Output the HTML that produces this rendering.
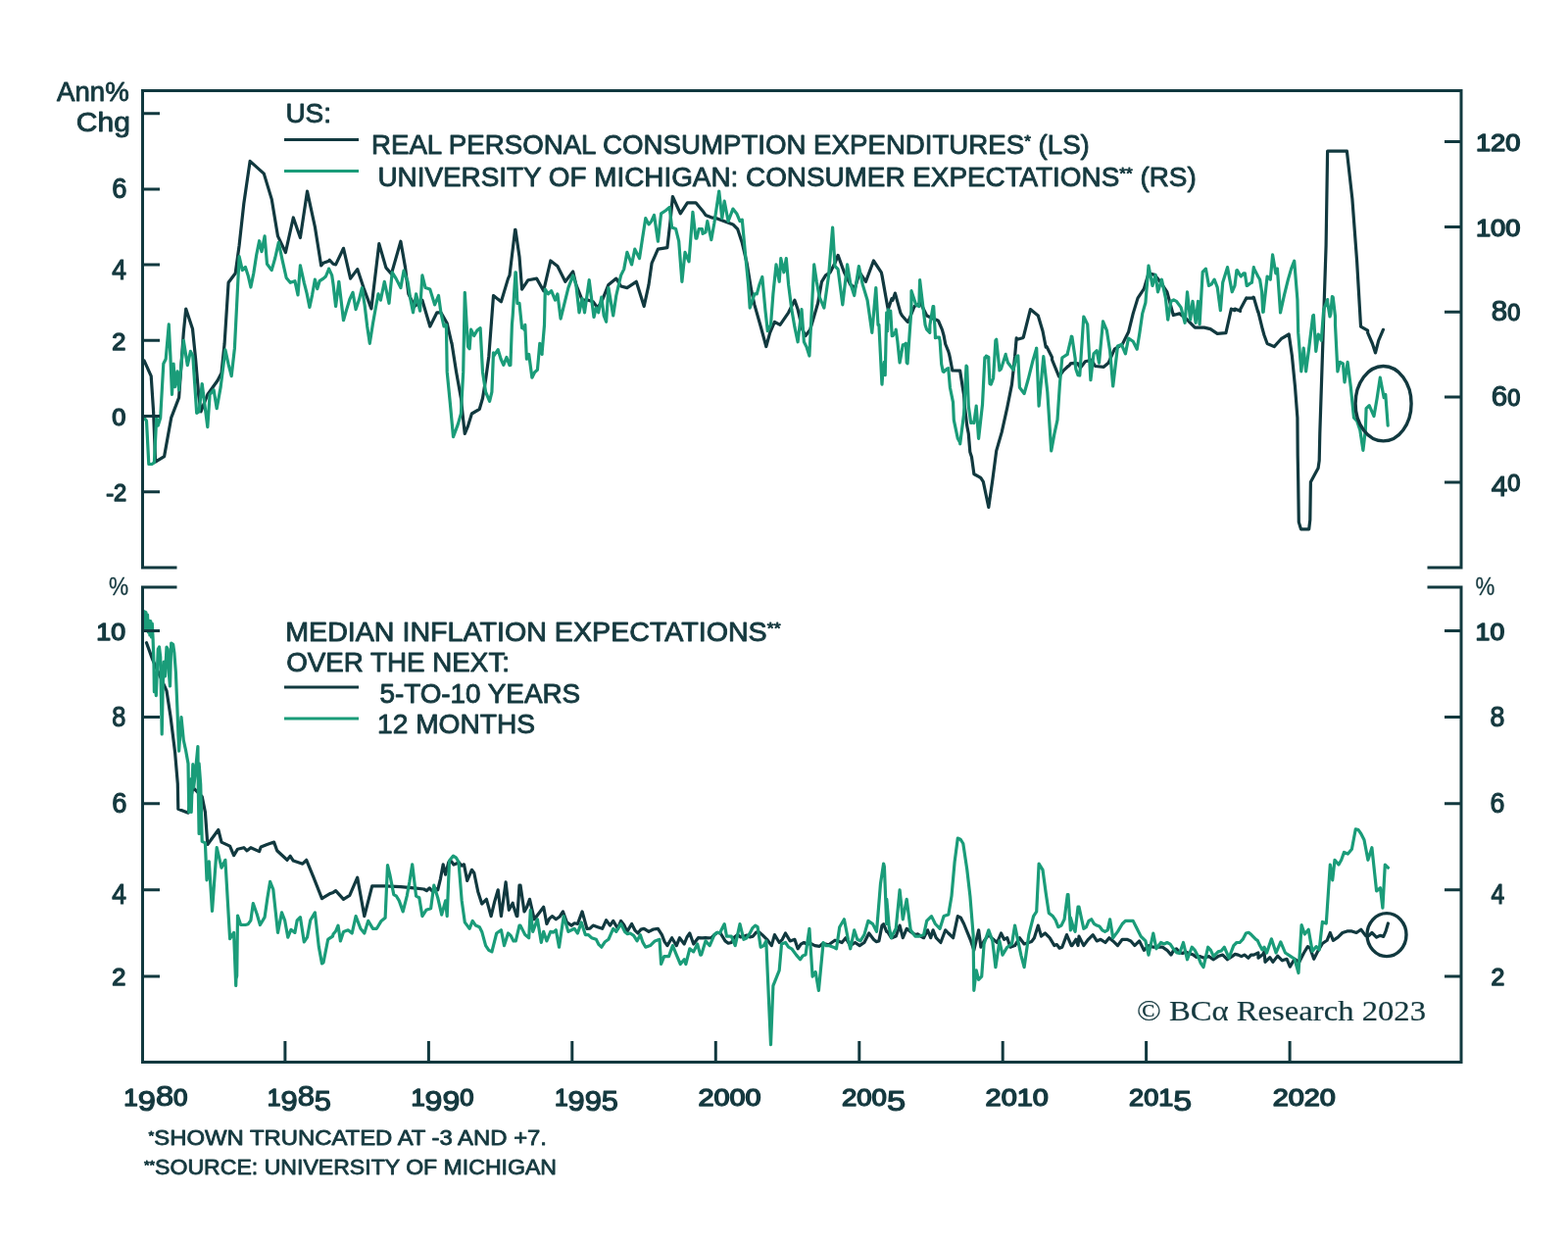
<!DOCTYPE html>
<html><head><meta charset="utf-8"><title>US consumption and inflation expectations</title><style>html,body{margin:0;padding:0;background:#fff;}svg{display:block;}</style></head><body>
<svg width="1600" height="1268" viewBox="0 0 1600 1268">
<rect width="1600" height="1268" fill="#ffffff"/>
<g fill="none" stroke-width="3.2" stroke-linejoin="round" stroke-linecap="round">
<path stroke="#11393f" d="M147.1,367.8 L154.2,383.6 L156.6,419.9 L158.6,471.1 L167.6,465.6 L174.7,426.2 L182.6,405.7 L187.3,339.4 L189.7,315.1 L189.7,315.0 L196.5,335.5 L199.6,366.2 L202.8,404.1 L205.0,419.9 L211.8,402.5 L222.0,388.3 L226.0,380.4 L229.1,350.5 L233.1,288.3 L240.2,278.8 L244.1,250.4 L248.8,207.8 L255.1,164.4 L269.3,177.1 L277.2,203.1 L283.5,240.9 L291.4,257.5 L299.3,222.0 L306.4,242.5 L313.5,195.2 L321.4,231.5 L327.7,270.9 L330.0,268.3 L335.6,266.2 L336.3,265.2 L340.0,269.3 L342.6,269.9 L350.5,253.3 L357.6,284.1 L364.7,274.6 L371.0,293.6 L378.9,314.9 L386.8,248.6 L393.9,273.1 L399.4,279.4 L408.9,246.2 L413.6,273.1 L416.8,299.9 L423.1,312.5 L430.9,306.2 L438.8,333.0 L445.9,318.8 L449.9,318.8 L456.2,329.8 L460.9,350.3 L460.9,349.5 L465.6,379.4 L470.4,406.2 L472.7,428.3 L474.3,442.5 L477.5,434.6 L481.4,422.0 L489.3,417.3 L492.5,406.2 L495.6,387.3 L498.8,363.7 L503.5,301.5 L511.4,307.8 L518.5,284.1 L520.0,280.9 L525.6,234.4 L526.0,234.4 L530.0,262.0 L532.6,295.1 L538.9,285.7 L547.6,284.1 L554.7,296.7 L561.8,266.0 L568.9,271.5 L576.8,287.3 L584.7,277.0 L587.8,290.4 L594.1,306.2 L600.4,306.2 L605.2,307.8 L609.9,314.1 L614.6,306.2 L620.9,290.4 L628.8,284.1 L633.6,292.0 L639.9,293.6 L649.3,287.3 L657.2,312.5 L662.0,290.4 L665.1,268.3 L671.4,254.1 L680.9,252.6 L684.0,225.7 L686.4,200.5 L694.3,217.9 L701.4,206.8 L709.3,206.8 L710.0,206.8 L717.9,216.3 L720.0,219.4 L725.8,221.8 L730.5,222.6 L747.9,228.9 L752.6,233.6 L757.3,247.8 L762.1,268.3 L766.8,296.7 L769.9,310.9 L776.2,333.0 L781.8,353.5 L785.7,339.3 L790.4,328.3 L796.0,331.4 L804.6,318.8 L810.9,306.2 L814.1,315.6 L818.8,336.2 L822.0,342.5 L826.7,336.2 L834.6,309.3 L838.5,287.3 L842.5,280.9 L847.2,277.8 L852.0,268.3 L855.1,260.4 L861.4,277.8 L867.7,290.4 L872.5,293.6 L877.2,277.8 L883.5,287.3 L891.4,266.0 L899.3,277.8 L900.0,280.9 L905.6,312.5 L906.3,315.6 L910.0,304.6 L910.9,306.3 L913.4,299.1 L918.8,318.9 L920.5,322.0 L926.0,328.3 L926.7,328.4 L933.1,312.5 L939.4,309.3 L945.7,322.0 L952.1,325.1 L956.7,326.8 L957.6,327.5 L961.4,336.3 L963.1,342.5 L964.7,351.0 L967.7,358.4 L968.6,361.4 L969.4,365.2 L971.7,377.3 L971.8,377.2 L971.8,377.9 L979.6,378.1 L979.7,378.6 L982.0,393.6 L983.5,402.5 L984.4,414.1 L986.7,434.1 L988.3,442.5 L989.8,460.9 L991.5,466.2 L993.8,483.0 L993.8,483.5 L999.4,486.7 L1000.9,487.7 L1003.3,491.4 L1008.8,517.4 L1012.8,489.8 L1016.7,459.9 L1022.2,440.9 L1027.8,415.7 L1032.5,392.1 L1035.6,363.7 L1037.2,344.8 L1038.0,346.3 L1043.5,344.7 L1044.3,344.0 L1051.4,315.6 L1059.3,322.0 L1064.0,337.7 L1067.2,354.2 L1068.0,353.5 L1073.5,364.5 L1073.5,366.8 L1080.6,384.2 L1085.3,377.9 L1090.0,373.5 L1090.9,373.1 L1092.4,370.9 L1096.3,370.3 L1100.0,370.9 L1100.0,371.5 L1102.6,375.1 L1107.4,368.8 L1113.7,367.2 L1117.6,373.5 L1126.3,374.3 L1131.0,370.3 L1137.3,356.2 L1145.2,351.4 L1151.5,338.8 L1156.2,319.9 L1161.0,304.1 L1167.3,294.6 L1172.0,278.9 L1178.3,280.4 L1184.6,288.3 L1190.9,297.8 L1197.3,321.5 L1203.6,319.9 L1209.9,324.6 L1219.3,334.1 L1228.8,334.1 L1235.1,335.6 L1242.2,340.4 L1250.9,339.6 L1256.4,315.1 L1260.0,316.7 L1260.0,315.0 L1264.3,316.7 L1265.5,317.4 L1265.5,315.8 L1271.8,304.0 L1271.8,304.7 L1273.0,304.1 L1278.9,304.0 L1278.9,303.2 L1279.3,303.3 L1283.7,318.2 L1283.7,317.4 L1284.0,318.3 L1288.4,336.3 L1290.0,342.0 L1293.1,350.5 L1300.2,353.6 L1307.3,345.7 L1315.2,341.0 L1318.4,363.1 L1321.5,394.6 L1323.9,426.2 L1324.2,464.2 L1324.7,490.6 L1325.3,532.6 L1327.5,539.8 L1335.7,539.8 L1336.8,530.4 L1337.4,491.7 L1345.1,477.4 L1346.2,469.7 L1346.8,442.1 L1353.1,250.4 L1354.6,154.2 L1374.4,154.2 L1379.9,203.1 L1384.6,266.2 L1388.5,332.4 L1388.5,333.1 L1395.6,337.2 L1395.6,339.4 L1400.4,350.5 L1403.5,359.9 L1406.7,347.3 L1411.4,336.3"/>
<path stroke="#11393f" d="M149.5,655.7 L155.8,673.1 L170.0,704.6 L173.9,729.9 L178.6,767.7 L181.3,799.3 L181.8,825.2 L192.1,829.2 L194.4,815.8 L196.8,803.2 L199.9,806.3 L206.2,812.6 L209.4,828.4 L211.8,861.5 L222.8,846.5 L226.0,859.1 L234.6,863.1 L238.6,872.6 L242.5,866.2 L248.8,864.7 L252.0,867.8 L255.9,864.7 L264.6,868.6 L266.2,863.9 L272.5,861.5 L279.6,859.1 L282.7,867.8 L293.0,877.3 L296.2,873.3 L299.3,878.1 L308.8,881.2 L312.7,877.3 L319.8,894.6 L328.5,916.7 L330.0,915.7 L336.3,911.8 L340.0,910.4 L342.6,908.6 L350.5,917.3 L356.8,913.3 L364.7,895.2 L371.8,934.6 L379.7,903.9 L393.1,903.9 L408.9,904.7 L424.6,906.2 L432.5,907.0 L435.4,908.7 L438.2,905.9 L441.0,909.0 L443.9,906.2 L446.7,907.8 L449.5,896.3 L452.2,881.8 L454.6,892.1 L457.8,879.4 L460.4,878.5 L463.0,882.0 L465.6,881.0 L468.3,879.8 L470.9,883.0 L473.5,881.8 L476.7,898.4 L481.4,887.3 L483.8,890.5 L487.7,909.4 L491.7,922.0 L496.4,917.3 L501.1,934.6 L504.7,919.7 L508.2,907.8 L511.4,934.6 L516.1,899.9 L519.3,928.3 L523.2,921.2 L523.2,922.0 L527.2,934.6 L527.9,934.6 L530.0,903.1 L531.0,903.1 L535.0,929.9 L537.7,925.1 L540.5,917.3 L545.2,937.8 L550.0,931.5 L554.7,925.2 L557.9,942.5 L560.6,937.1 L563.4,934.6 L567.3,937.8 L570.9,935.3 L574.4,929.9 L578.4,940.9 L583.1,944.1 L586.2,941.8 L589.4,942.5 L594.1,929.9 L598.9,947.3 L602.0,947.2 L605.2,944.1 L609.9,945.7 L614.6,947.3 L618.6,938.6 L622.5,944.1 L625.7,939.4 L630.4,947.3 L633.6,939.4 L636.7,943.4 L639.9,950.4 L644.6,942.5 L647.8,948.8 L650.9,952.0 L654.1,948.1 L657.2,947.3 L662.0,950.4 L666.7,948.0 L671.4,947.3 L675.4,953.6 L678.1,960.6 L680.9,964.6 L685.6,956.7 L690.3,964.6 L693.5,956.7 L698.2,963.0 L701.0,956.0 L703.8,952.0 L707.7,963.0 L712.4,956.7 L716.3,956.8 L720.0,956.7 L722.6,956.8 L725.8,956.7 L728.9,953.6 L732.1,951.3 L735.2,952.0 L740.0,959.9 L743.1,962.2 L746.3,961.5 L749.4,956.0 L752.6,953.6 L755.7,955.9 L758.9,955.2 L762.1,954.1 L765.2,956.0 L768.4,955.1 L771.5,951.2 L774.7,950.9 L777.8,953.6 L782.6,958.3 L787.3,964.6 L790.4,953.6 L795.2,961.5 L798.3,958.3 L801.5,952.0 L806.2,959.9 L810.9,958.3 L814.1,967.8 L817.3,963.1 L820.4,961.5 L823.6,963.4 L826.7,962.3 L831.5,964.6 L836.2,965.4 L839.3,962.7 L842.5,963.1 L845.6,963.8 L848.8,961.5 L852.0,959.2 L855.1,959.9 L859.1,961.5 L863.0,956.8 L867.7,964.6 L872.5,961.5 L877.2,964.6 L881.9,961.5 L886.7,952.0 L891.4,958.3 L894.1,960.6 L896.9,959.9 L900.0,944.1 L901.6,942.6 L904.7,950.4 L905.6,950.4 L909.5,956.7 L910.0,956.8 L914.2,955.1 L918.1,944.1 L921.3,956.7 L925.2,947.3 L929.2,950.4 L933.9,953.6 L936.7,952.9 L939.4,955.1 L942.6,956.7 L946.5,948.8 L949.7,956.7 L952.1,948.8 L955.2,956.7 L959.9,961.5 L964.7,948.8 L967.8,952.0 L972.6,956.7 L977.3,934.6 L980.4,936.2 L983.6,942.5 L986.8,950.4 L990.7,959.9 L993.8,969.3 L998.6,948.8 L1000.9,966.2 L1004.1,959.9 L1008.8,953.6 L1013.6,958.3 L1017.5,961.5 L1021.5,952.0 L1024.6,958.3 L1027.8,956.7 L1030.9,966.2 L1035.6,964.6 L1040.4,956.7 L1045.1,963.0 L1049.8,961.5 L1052.6,960.6 L1055.4,956.7 L1059.3,944.1 L1062.5,955.1 L1066.4,952.0 L1071.1,956.7 L1075.9,964.6 L1078.5,963.6 L1081.1,967.2 L1083.8,966.2 L1088.5,953.6 L1093.2,964.6 L1093.9,964.6 L1097.9,958.3 L1100.0,964.6 L1101.0,955.1 L1105.8,964.6 L1110.5,958.3 L1115.2,953.6 L1119.2,959.9 L1123.1,958.3 L1127.9,961.5 L1131.8,956.7 L1135.7,959.9 L1140.5,964.6 L1145.2,958.3 L1149.9,958.3 L1153.9,959.9 L1157.8,964.6 L1162.6,959.9 L1167.3,969.3 L1172.0,964.6 L1176.8,966.2 L1181.5,966.2 L1186.2,966.2 L1190.9,969.3 L1194.9,974.1 L1197.6,969.4 L1200.4,967.8 L1203.6,971.6 L1206.7,972.5 L1209.9,971.0 L1213.0,972.5 L1217.8,974.1 L1220.9,976.4 L1224.1,975.6 L1228.8,977.2 L1233.5,975.6 L1238.3,978.8 L1243.0,975.6 L1247.7,974.1 L1252.5,978.8 L1257.2,975.6 L1260.3,973.4 L1263.5,974.1 L1266.7,975.6 L1269.8,974.1 L1273.8,977.2 L1276.5,974.1 L1279.3,974.1 L1283.9,972.0 L1284.0,977.2 L1288.7,973.5 L1290.0,970.9 L1291.0,981.4 L1295.8,976.7 L1298.9,981.4 L1303.7,975.1 L1308.4,979.8 L1313.1,978.3 L1316.3,986.2 L1321.0,978.3 L1325.7,981.4 L1330.5,972.0 L1334.4,965.6 L1336.8,967.2 L1340.7,978.3 L1344.7,970.4 L1349.4,962.5 L1354.1,959.3 L1357.3,951.5 L1360.4,959.3 L1365.2,956.2 L1369.9,951.5 L1374.6,949.9 L1379.4,949.9 L1384.1,951.5 L1388.8,948.3 L1393.6,954.6 L1396.7,954.5 L1399.9,951.5 L1404.6,956.2 L1408.2,954.3 L1411.7,955.4 L1414.1,949.9 L1416.4,942.0"/>
<path stroke="#1a9c79" d="M147.1,426.2 L149.5,429.3 L151.8,473.5 L155.0,473.5 L157.4,471.9 L159.7,426.2 L161.3,434.1 L163.7,426.2 L166.8,371.0 L169.2,366.2 L172.3,330.9 L172.3,331.5 L173.9,363.1 L175.5,402.5 L177.1,371.0 L178.6,394.6 L181.0,378.9 L182.6,397.8 L187.3,347.3 L191.3,372.6 L194.4,358.4 L196.8,363.1 L200.7,421.5 L203.1,419.9 L206.2,391.5 L208.6,410.4 L211.8,435.6 L214.1,402.5 L218.1,397.8 L221.2,416.7 L225.2,394.6 L229.9,356.8 L233.1,371.7 L236.2,383.6 L239.4,355.2 L244.1,261.5 L247.3,275.6 L250.4,272.5 L253.2,281.2 L255.9,293.0 L258.8,278.7 L261.7,260.0 L264.6,245.7 L267.0,256.7 L270.1,240.9 L272.5,269.3 L277.2,275.6 L280.8,263.0 L284.3,247.3 L288.3,266.2 L292.2,283.5 L296.2,288.3 L300.9,286.7 L304.0,300.9 L306.4,270.9 L310.3,288.3 L313.1,299.4 L315.9,313.5 L318.6,300.8 L321.4,285.1 L323.8,294.6 L326.1,286.7 L330.0,284.1 L332.4,282.0 L335.5,274.6 L335.6,274.1 L338.7,280.9 L340.0,289.8 L342.6,312.5 L345.8,287.3 L350.5,326.7 L353.7,315.6 L356.8,305.5 L360.0,298.3 L363.1,315.6 L366.3,306.1 L369.4,293.6 L372.1,311.0 L374.7,332.9 L377.3,350.3 L380.5,329.9 L383.6,312.5 L386.0,299.9 L388.4,306.2 L392.3,287.3 L397.0,309.3 L400.2,277.8 L404.1,284.1 L408.9,293.6 L412.0,276.2 L416.0,287.3 L418.7,304.5 L421.5,318.8 L424.6,299.9 L428.6,317.2 L430.9,280.9 L434.1,293.6 L438.8,295.1 L443.6,310.9 L447.5,301.5 L449.9,318.8 L453.0,333.0 L455.4,331.4 L456.2,379.4 L459.3,411.0 L462.5,445.7 L467.2,433.1 L470.4,422.0 L472.7,379.4 L474.3,298.3 L477.5,353.5 L479.1,355.8 L480.6,336.2 L483.8,342.5 L486.9,337.0 L490.1,334.6 L492.5,379.4 L495.6,399.9 L499.6,409.4 L501.9,399.9 L503.5,359.8 L503.5,363.7 L508.2,356.7 L511.0,366.0 L513.8,372.4 L516.9,364.5 L520.0,372.6 L520.9,372.4 L522.4,331.5 L523.2,322.0 L526.0,277.8 L526.4,277.8 L527.9,309.5 L529.5,309.3 L530.0,309.3 L532.6,334.7 L534.2,334.6 L535.0,336.3 L535.8,331.4 L537.4,366.2 L539.7,361.5 L542.9,385.2 L545.6,379.7 L548.4,377.3 L550.8,350.3 L550.8,352.1 L553.1,361.4 L553.1,359.9 L555.5,331.5 L556.3,295.1 L559.4,299.9 L562.6,296.7 L566.5,306.2 L568.9,299.9 L572.1,325.1 L576.0,309.3 L579.9,293.6 L584.7,280.9 L587.8,290.4 L591.0,318.8 L594.1,304.6 L596.5,318.8 L601.2,285.7 L606.0,323.5 L608.3,314.1 L610.7,318.8 L613.8,303.0 L616.2,322.0 L618.6,328.3 L620.9,293.6 L625.7,322.0 L628.8,301.5 L633.6,280.9 L636.7,274.6 L639.9,257.3 L644.6,269.9 L647.8,254.1 L652.5,263.6 L655.6,243.1 L658.8,222.6 L662.0,228.9 L664.7,225.7 L667.5,219.4 L671.4,246.2 L674.6,217.9 L679.3,214.7 L683.2,211.5 L685.6,232.1 L689.6,233.6 L692.7,246.2 L695.9,287.3 L699.0,257.3 L703.0,266.8 L706.9,216.3 L710.0,243.1 L710.9,243.1 L713.2,233.6 L716.4,233.6 L717.1,238.4 L720.0,236.8 L721.8,225.7 L725.8,244.7 L728.9,227.3 L733.7,195.0 L736.8,222.6 L739.2,205.2 L743.1,225.7 L747.9,213.1 L751.8,217.9 L755.0,225.7 L757.3,224.2 L760.5,258.9 L763.6,290.4 L765.2,314.1 L769.9,299.9 L772.3,299.9 L775.1,289.7 L777.8,282.5 L781.0,317.2 L783.3,337.7 L786.5,331.4 L788.9,299.9 L792.0,269.9 L795.2,287.3 L796.8,263.6 L799.9,277.8 L802.3,263.6 L804.6,290.4 L807.8,315.6 L810.9,333.7 L814.1,348.8 L818.0,315.6 L820.4,348.8 L823.2,354.4 L825.9,363.0 L830.7,269.9 L833.4,288.0 L836.2,303.0 L840.9,314.1 L845.6,280.9 L849.6,232.1 L852.0,271.5 L855.1,274.6 L859.8,310.9 L864.6,269.9 L867.7,288.8 L871.7,301.5 L876.4,271.5 L880.3,290.4 L885.1,306.2 L889.8,339.3 L893.8,293.6 L896.0,331.5 L896.9,331.4 L899.9,391.5 L900.0,392.1 L900.9,378.7 L902.4,369.3 L903.1,371.0 L903.2,382.6 L904.7,318.8 L905.6,337.7 L906.2,315.8 L907.9,322.0 L908.7,317.2 L910.2,342.6 L911.0,342.5 L914.1,337.9 L914.2,336.2 L915.8,347.9 L918.0,369.4 L918.1,369.3 L918.1,370.0 L921.3,351.9 L921.3,352.6 L922.0,352.1 L924.4,350.3 L925.2,370.0 L925.9,369.4 L926.0,370.9 L929.9,315.8 L930.0,296.7 L934.7,310.9 L937.8,312.6 L938.6,285.7 L941.8,312.5 L944.1,331.5 L945.7,336.2 L948.8,339.4 L948.9,331.4 L952.1,312.5 L952.7,312.6 L954.4,342.5 L954.4,344.7 L955.9,344.2 L958.4,344.0 L958.4,344.7 L959.1,347.3 L960.7,371.5 L962.2,378.9 L962.3,377.2 L963.1,379.4 L966.2,376.3 L967.7,375.7 L969.4,395.2 L972.5,410.4 L973.3,428.3 L977.3,447.3 L979.6,451.4 L979.7,452.8 L983.6,422.0 L986.0,373.1 L986.7,374.1 L988.3,414.1 L990.7,431.5 L992.2,430.9 L993.8,431.5 L996.1,415.1 L996.2,414.1 L998.5,446.7 L998.6,447.3 L1002.5,412.6 L1004.9,364.5 L1005.7,365.2 L1006.4,363.1 L1008.8,364.5 L1008.8,368.4 L1010.0,391.5 L1011.2,392.1 L1013.6,385.7 L1015.9,347.2 L1016.7,346.3 L1019.9,377.2 L1019.9,377.9 L1021.5,376.3 L1026.2,361.4 L1026.2,362.1 L1028.5,370.0 L1033.3,376.3 L1034.1,377.2 L1037.2,363.7 L1038.8,363.0 L1040.4,395.2 L1045.1,401.5 L1049.1,387.3 L1053.8,368.4 L1057.7,355.1 L1057.7,355.0 L1060.1,414.1 L1064.8,363.7 L1068.8,399.9 L1072.7,459.9 L1075.9,442.6 L1079.0,428.3 L1081.4,392.1 L1083.8,365.2 L1084.5,364.5 L1089.3,361.4 L1089.3,360.5 L1090.0,357.7 L1093.2,344.0 L1093.2,343.2 L1093.9,343.5 L1097.2,366.1 L1097.2,371.5 L1097.9,376.7 L1100.0,382.6 L1101.8,383.0 L1105.8,323.0 L1109.7,330.9 L1112.9,387.7 L1116.0,360.9 L1119.2,357.7 L1121.5,370.3 L1125.5,327.8 L1129.4,337.2 L1132.6,357.7 L1135.7,394.0 L1140.5,353.0 L1144.4,351.4 L1148.4,360.9 L1151.5,345.1 L1156.2,348.3 L1160.2,356.2 L1162.9,339.5 L1165.7,319.9 L1168.9,308.8 L1172.0,271.0 L1176.0,291.5 L1179.1,280.4 L1181.5,297.8 L1185.4,285.2 L1189.4,304.1 L1191.7,326.2 L1194.9,307.3 L1197.6,305.8 L1200.4,307.3 L1205.1,313.6 L1209.1,329.3 L1211.5,297.8 L1214.6,326.2 L1217.0,307.3 L1220.1,329.3 L1222.5,307.3 L1224.1,330.9 L1227.2,277.3 L1230.4,274.1 L1233.5,291.5 L1236.3,289.8 L1239.1,285.2 L1242.2,293.1 L1245.4,316.7 L1247.7,288.3 L1252.5,272.6 L1257.2,297.8 L1260.0,291.4 L1261.9,275.7 L1262.4,275.6 L1265.1,280.4 L1266.3,282.0 L1269.0,278.9 L1270.3,278.8 L1272.2,291.5 L1272.6,291.4 L1276.9,288.3 L1277.4,288.3 L1279.3,272.6 L1279.7,274.1 L1283.7,282.0 L1285.6,285.2 L1287.6,297.7 L1288.7,318.3 L1289.2,318.2 L1289.2,317.4 L1293.1,282.0 L1296.3,285.1 L1298.6,259.9 L1301.8,278.8 L1303.4,274.1 L1306.5,318.2 L1306.5,318.9 L1310.5,300.9 L1314.4,285.1 L1317.6,274.1 L1320.7,266.2 L1323.9,305.6 L1324.7,339.4 L1327.8,378.9 L1330.2,355.2 L1332.6,378.9 L1335.7,355.2 L1339.7,322.1 L1340.4,321.4 L1342.8,358.4 L1345.2,341.0 L1348.3,347.3 L1350.7,315.8 L1354.6,305.6 L1354.6,307.9 L1357.0,323.0 L1357.8,320.5 L1359.4,302.5 L1360.2,303.2 L1362.5,323.0 L1362.5,331.5 L1364.9,378.9 L1367.3,369.4 L1370.4,371.0 L1372.0,389.9 L1375.1,369.4 L1378.3,394.6 L1381.5,426.2 L1384.6,429.3 L1387.8,438.8 L1390.9,459.3 L1393.3,438.8 L1394.1,416.7 L1397.2,413.6 L1402.0,424.6 L1405.1,406.4 L1408.3,385.2 L1412.2,405.7 L1413.8,402.5 L1416.2,434.1"/>
<path stroke="#1a9c79" d="M146.5,626.0 L147.3,623.8 L148.1,641.0 L148.9,624.5 L149.7,643.0 L150.5,627.0 L151.3,645.0 L152.1,633.0 L152.9,648.0 L153.7,633.5 L154.5,650.0 L155.3,636.0 L156.1,652.0 L157.0,678.1 L157.4,705.7 L158.6,700.0 L159.3,709.6 L161.3,662.3 L162.5,660.0 L163.7,670.2 L164.5,713.6 L165.2,748.9 L166.2,700.0 L167.2,675.0 L168.5,690.0 L170.0,660.0 L171.2,662.3 L172.3,686.0 L173.5,700.0 L174.7,656.0 L176.7,657.6 L177.9,666.3 L179.4,686.0 L181.0,725.0 L182.6,766.2 L185.0,731.5 L187.3,755.2 L189.5,765.0 L192.0,778.9 L192.8,828.4 L195.2,794.6 L195.2,828.4 L196.8,779.7 L197.6,803.2 L199.1,790.7 L201.9,761.5 L202.3,803.2 L203.1,850.5 L203.1,778.9 L204.7,800.0 L206.2,858.4 L209.4,859.9 L211.0,897.8 L213.3,878.9 L216.5,929.3 L221.2,864.7 L226.0,885.2 L229.9,877.3 L234.6,957.7 L238.6,951.4 L240.7,1005.5 L240.9,998.7 L241.7,995.6 L242.5,934.1 L245.7,943.5 L250.4,943.5 L253.2,942.7 L255.9,938.8 L258.3,921.5 L262.2,932.5 L265.4,943.5 L270.1,935.6 L272.9,916.0 L275.6,899.4 L278.8,907.3 L283.5,951.4 L287.5,930.9 L290.6,938.8 L293.8,956.2 L296.9,948.3 L300.9,951.4 L303.2,938.8 L306.4,935.6 L310.3,960.9 L313.5,956.2 L316.7,938.8 L321.4,930.9 L325.3,965.6 L328.5,983.0 L330.0,982.0 L334.7,958.3 L335.6,957.7 L339.5,955.1 L340.0,953.0 L342.5,950.0 L345.0,944.1 L347.4,959.9 L350.5,950.4 L355.2,948.8 L359.2,952.0 L363.1,934.6 L367.9,947.3 L371.8,952.0 L375.7,939.4 L380.5,947.3 L384.4,947.3 L389.1,939.4 L393.1,936.2 L395.5,882.6 L397.8,892.1 L401.8,912.6 L404.5,914.2 L407.3,918.9 L411.2,929.9 L415.2,914.1 L417.9,899.5 L420.7,881.8 L424.6,914.1 L427.8,915.7 L430.9,934.6 L434.9,928.3 L439.6,926.8 L442.8,903.1 L446.7,915.7 L450.7,933.1 L454.6,918.9 L456.2,934.6 L458.5,877.9 L462.5,873.1 L465.3,874.8 L468.0,879.4 L471.2,918.9 L474.3,940.9 L479.1,947.3 L482.2,939.4 L485.4,944.1 L489.3,945.7 L491.7,950.4 L495.6,964.6 L498.8,969.3 L501.9,970.9 L506.7,952.0 L511.4,948.8 L514.5,964.6 L518.5,952.0 L521.2,954.4 L524.0,959.9 L526.3,959.9 L530.0,944.1 L531.0,944.1 L535.8,953.6 L539.7,956.7 L541.3,928.3 L543.7,950.4 L548.4,937.8 L552.3,961.5 L554.7,950.4 L557.9,959.9 L561.8,950.4 L564.6,951.1 L567.3,948.8 L570.5,966.2 L575.2,934.6 L579.9,950.4 L583.1,948.8 L586.2,947.3 L589.4,952.0 L593.3,940.9 L597.3,953.6 L600.4,953.6 L603.6,956.7 L608.3,958.3 L611.1,963.7 L613.8,966.2 L617.4,960.7 L620.9,958.3 L625.7,947.3 L628.8,950.4 L633.6,942.5 L637.5,950.4 L640.3,952.7 L643.0,952.0 L646.6,954.4 L650.1,959.9 L653.3,953.6 L656.0,961.4 L658.8,966.2 L663.5,964.6 L668.3,959.9 L673.0,958.3 L674.6,983.5 L677.7,975.6 L682.5,975.6 L686.4,964.6 L690.3,974.1 L694.3,983.5 L698.2,978.8 L699.8,983.5 L703.8,967.8 L707.7,970.9 L711.6,963.0 L714.7,974.1 L715.6,974.1 L719.5,961.5 L720.0,959.9 L724.2,964.6 L728.9,953.6 L731.7,951.3 L734.4,952.0 L739.2,942.6 L741.5,955.2 L746.3,955.2 L750.2,964.6 L755.0,942.6 L758.9,958.3 L762.1,956.7 L765.2,952.0 L768.0,946.6 L770.7,944.1 L773.1,945.7 L776.2,966.2 L779.4,964.6 L781.8,959.9 L784.1,1012.0 L786.5,1065.6 L788.9,1005.6 L792.0,997.8 L795.2,989.9 L797.5,963.1 L801.5,961.5 L804.6,966.1 L807.8,967.8 L812.5,974.1 L816.5,978.8 L819.2,975.0 L822.0,974.1 L825.9,947.3 L829.1,996.2 L832.2,991.5 L835.4,1010.4 L840.1,961.5 L842.9,964.6 L845.6,964.6 L850.4,966.2 L853.5,967.8 L856.7,945.7 L861.4,937.8 L865.4,958.3 L867.7,967.8 L871.7,948.9 L874.8,958.3 L878.0,959.9 L881.9,953.6 L885.9,939.4 L890.6,942.6 L894.5,950.4 L898.5,901.5 L901.6,881.0 L902.4,884.2 L904.7,942.5 L904.8,917.3 L907.2,945.7 L909.5,956.7 L910.0,955.2 L914.2,947.3 L918.1,907.8 L921.3,937.8 L925.2,917.3 L929.2,948.8 L933.9,955.1 L937.9,955.1 L942.6,953.6 L945.7,939.4 L950.5,934.6 L954.4,942.5 L959.1,947.3 L963.1,934.6 L967.8,933.1 L971.0,914.1 L974.1,879.4 L977.3,855.0 L980.0,856.2 L982.8,860.5 L986.8,887.3 L989.9,914.1 L993.1,953.6 L993.8,1010.3 L996.2,989.8 L998.6,999.3 L1001.7,996.2 L1004.1,963.0 L1008.8,948.8 L1012.8,959.9 L1015.9,986.7 L1019.9,959.9 L1023.0,974.1 L1027.8,966.2 L1032.5,963.0 L1035.6,944.1 L1038.8,959.9 L1042.0,974.8 L1045.1,986.7 L1049.8,953.6 L1054.6,934.6 L1057.7,929.9 L1060.1,881.0 L1064.0,887.3 L1067.2,911.0 L1070.3,931.5 L1074.3,934.6 L1077.1,938.7 L1079.8,945.7 L1083.0,944.1 L1086.1,937.8 L1089.3,912.6 L1090.0,912.6 L1092.4,948.8 L1092.4,936.2 L1095.6,947.3 L1097.1,950.4 L1100.0,925.2 L1101.0,925.2 L1105.8,947.3 L1108.4,945.6 L1111.0,939.4 L1113.7,937.8 L1116.4,942.4 L1119.2,944.1 L1121.9,945.0 L1124.7,948.8 L1127.5,950.3 L1130.2,948.8 L1132.6,937.8 L1135.7,956.7 L1140.5,950.4 L1145.2,942.5 L1148.4,939.4 L1151.5,939.4 L1156.2,939.4 L1159.4,945.7 L1164.1,955.1 L1168.9,959.9 L1172.0,974.1 L1176.8,952.0 L1179.9,967.8 L1184.6,961.5 L1187.8,963.0 L1190.9,961.5 L1194.1,963.1 L1197.3,967.8 L1200.4,971.6 L1203.6,972.5 L1207.5,961.5 L1211.5,978.8 L1216.2,966.2 L1219.3,969.4 L1222.5,975.6 L1225.3,982.7 L1228.0,986.7 L1232.7,966.2 L1235.5,969.4 L1238.3,975.6 L1243.0,970.9 L1246.2,970.0 L1249.3,966.2 L1254.0,977.2 L1258.8,964.6 L1261.9,961.5 L1265.1,961.5 L1268.2,958.2 L1271.4,952.0 L1274.1,951.3 L1276.9,953.6 L1281.6,958.3 L1283.2,959.3 L1285.6,964.6 L1287.9,968.8 L1290.0,966.2 L1292.6,972.0 L1297.4,957.8 L1302.1,972.0 L1306.8,960.9 L1311.5,972.0 L1316.3,975.1 L1321.0,978.3 L1325.0,992.5 L1328.1,943.6 L1331.3,953.0 L1335.2,948.3 L1339.1,970.4 L1343.1,965.6 L1346.2,968.8 L1349.4,940.4 L1353.3,942.0 L1357.3,882.1 L1359.7,897.8 L1362.0,877.3 L1366.0,882.1 L1368.7,877.2 L1371.5,869.4 L1375.4,871.0 L1379.4,866.3 L1383.3,845.8 L1386.1,846.6 L1388.8,850.5 L1392.0,856.8 L1395.9,877.3 L1399.9,864.7 L1404.6,908.9 L1408.5,905.7 L1410.9,926.2 L1413.3,882.1 L1416.4,885.2"/>
</g>
<g fill="none" stroke="#11393f" stroke-width="3" stroke-linecap="square">
<path d="M179,579 L145.5,579 L145.5,92.5 L1491,92.5 L1491,579 L1458,579"/>
<path d="M179,599 L145.5,599 L145.5,1083.5 L1491,1083.5 L1491,599 L1458,599"/>
</g>
<path fill="none" stroke="#11393f" stroke-width="3" d="M145.5,115.7 H163 M145.5,192.9 H163 M145.5,270.1 H163 M145.5,347.3 H163 M145.5,424.5 H163 M145.5,501.7 H163 M1474,144.6 H1491 M1474,231.4 H1491 M1474,318.2 H1491 M1474,405.1 H1491 M1474,491.9 H1491 M145.5,643.5 H163 M1474,643.5 H1491 M145.5,731.6 H163 M1474,731.6 H1491 M145.5,819.7 H163 M1474,819.7 H1491 M145.5,907.8 H163 M1474,907.8 H1491 M145.5,995.9 H163 M1474,995.9 H1491 M290.9,1062 V1083.5 M437.4,1062 V1083.5 M583.8,1062 V1083.5 M730.3,1062 V1083.5 M876.8,1062 V1083.5 M1023.2,1062 V1083.5 M1169.6,1062 V1083.5 M1316.1,1062 V1083.5"/>
<ellipse cx="1411.6" cy="411.7" rx="28.5" ry="38.2" fill="none" stroke="#11393f" stroke-width="3.4"/>
<ellipse cx="1415" cy="953.6" rx="20" ry="22" fill="none" stroke="#11393f" stroke-width="3.4"/>
<g stroke-width="3" fill="none">
<path stroke="#11393f" d="M290,142.5 H366"/>
<path stroke="#1a9c79" d="M290,174.5 H366"/>
<path stroke="#11393f" d="M290,701 H366"/>
<path stroke="#1a9c79" d="M290,733 H366"/>
</g>
<text x="58.1" y="103.0" text-anchor="start" style="font-family:'Liberation Sans',Arial,sans-serif;font-size:28.0px;font-weight:normal;fill:#15393f;stroke:#15393f;stroke-width:0.90px;stroke-linejoin:round" textLength="73.6" lengthAdjust="spacingAndGlyphs">Ann%</text>
<text x="77.8" y="134.3" text-anchor="start" style="font-family:'Liberation Sans',Arial,sans-serif;font-size:28.0px;font-weight:normal;fill:#15393f;stroke:#15393f;stroke-width:0.90px;stroke-linejoin:round" textLength="55.1" lengthAdjust="spacingAndGlyphs">Chg</text>
<text x="291.4" y="125.0" text-anchor="start" style="font-family:'Liberation Sans',Arial,sans-serif;font-size:27.5px;font-weight:normal;fill:#15393f;stroke:#15393f;stroke-width:0.90px;stroke-linejoin:round" textLength="46.5" lengthAdjust="spacingAndGlyphs">US:</text>
<text x="379.0" y="157.3" text-anchor="start" style="font-family:'Liberation Sans',Arial,sans-serif;font-size:27.5px;font-weight:normal;fill:#15393f;stroke:#15393f;stroke-width:0.90px;stroke-linejoin:round" textLength="732.8" lengthAdjust="spacingAndGlyphs">REAL PERSONAL CONSUMPTION EXPENDITURES<tspan style="font-size:17.1px" baseline-shift="6.9">*</tspan> (LS)</text>
<text x="385.5" y="190.3" text-anchor="start" style="font-family:'Liberation Sans',Arial,sans-serif;font-size:27.5px;font-weight:normal;fill:#15393f;stroke:#15393f;stroke-width:0.90px;stroke-linejoin:round" textLength="835.2" lengthAdjust="spacingAndGlyphs">UNIVERSITY OF MICHIGAN: CONSUMER EXPECTATIONS<tspan style="font-size:17.1px" baseline-shift="6.9">**</tspan> (RS)</text>
<text x="291.2" y="653.7" text-anchor="start" style="font-family:'Liberation Sans',Arial,sans-serif;font-size:27.5px;font-weight:normal;fill:#15393f;stroke:#15393f;stroke-width:0.90px;stroke-linejoin:round" textLength="505.4" lengthAdjust="spacingAndGlyphs">MEDIAN INFLATION EXPECTATIONS<tspan style="font-size:17.1px" baseline-shift="6.9">**</tspan></text>
<text x="292.2" y="684.8" text-anchor="start" style="font-family:'Liberation Sans',Arial,sans-serif;font-size:27.5px;font-weight:normal;fill:#15393f;stroke:#15393f;stroke-width:0.90px;stroke-linejoin:round" textLength="227.8" lengthAdjust="spacingAndGlyphs">OVER THE NEXT:</text>
<text x="387.4" y="716.5" text-anchor="start" style="font-family:'Liberation Sans',Arial,sans-serif;font-size:27.5px;font-weight:normal;fill:#15393f;stroke:#15393f;stroke-width:0.90px;stroke-linejoin:round" textLength="204.8" lengthAdjust="spacingAndGlyphs">5-TO-10 YEARS</text>
<text x="385.0" y="748.2" text-anchor="start" style="font-family:'Liberation Sans',Arial,sans-serif;font-size:27.5px;font-weight:normal;fill:#15393f;stroke:#15393f;stroke-width:0.90px;stroke-linejoin:round" textLength="161.1" lengthAdjust="spacingAndGlyphs">12 MONTHS</text>
<text x="151.5" y="1168.0" text-anchor="start" style="font-family:'Liberation Sans',Arial,sans-serif;font-size:21.5px;font-weight:normal;fill:#15393f;stroke:#15393f;stroke-width:0.80px;stroke-linejoin:round" textLength="406.5" lengthAdjust="spacingAndGlyphs"><tspan style="font-size:13.3px" baseline-shift="5.4">*</tspan>SHOWN TRUNCATED AT -3 AND +7.</text>
<text x="147.0" y="1197.8" text-anchor="start" style="font-family:'Liberation Sans',Arial,sans-serif;font-size:21.5px;font-weight:normal;fill:#15393f;stroke:#15393f;stroke-width:0.80px;stroke-linejoin:round" textLength="421.0" lengthAdjust="spacingAndGlyphs"><tspan style="font-size:13.3px" baseline-shift="5.4">**</tspan>SOURCE: UNIVERSITY OF MICHIGAN</text>
<text x="1160.0" y="1041.0" text-anchor="start" style="font-family:'Liberation Serif','Times New Roman',serif;font-size:30.0px;font-weight:normal;fill:#15393f;stroke:#15393f;stroke-width:0.20px;stroke-linejoin:round" textLength="295.0" lengthAdjust="spacingAndGlyphs">&#169; BC&#945; Research 2023</text>
<text x="114.2" y="202.4" text-anchor="start" style="font-family:'Liberation Sans',Arial,sans-serif;font-size:24.0px;font-weight:normal;fill:#15393f;stroke:#15393f;stroke-width:1.00px;stroke-linejoin:round" textLength="15.2" lengthAdjust="spacingAndGlyphs"><tspan style="font-size:29.5px;stroke-width:1.2px">6</tspan></text>
<text x="114.2" y="279.6" text-anchor="start" style="font-family:'Liberation Sans',Arial,sans-serif;font-size:24.0px;font-weight:normal;fill:#15393f;stroke:#15393f;stroke-width:1.00px;stroke-linejoin:round" textLength="14.7" lengthAdjust="spacingAndGlyphs"><tspan style="font-size:29.5px;stroke-width:1.2px" baseline-shift="-5.0">4</tspan></text>
<text x="114.2" y="356.8" text-anchor="start" style="font-family:'Liberation Sans',Arial,sans-serif;font-size:24.0px;font-weight:normal;fill:#15393f;stroke:#15393f;stroke-width:1.00px;stroke-linejoin:round" textLength="14.1" lengthAdjust="spacingAndGlyphs"><tspan style="font-size:23.5px;stroke-width:1.4px">2</tspan></text>
<text x="114.2" y="434.0" text-anchor="start" style="font-family:'Liberation Sans',Arial,sans-serif;font-size:24.0px;font-weight:normal;fill:#15393f;stroke:#15393f;stroke-width:1.00px;stroke-linejoin:round" textLength="14.1" lengthAdjust="spacingAndGlyphs"><tspan style="font-size:23.5px;stroke-width:1.4px">0</tspan></text>
<text x="108.2" y="511.2" text-anchor="start" style="font-family:'Liberation Sans',Arial,sans-serif;font-size:24.0px;font-weight:normal;fill:#15393f;stroke:#15393f;stroke-width:1.00px;stroke-linejoin:round" textLength="21.0" lengthAdjust="spacingAndGlyphs"><tspan style="font-size:23.5px;stroke-width:1.4px">-</tspan><tspan style="font-size:23.5px;stroke-width:1.4px">2</tspan></text>
<text x="1505.9" y="153.8" text-anchor="start" style="font-family:'Liberation Sans',Arial,sans-serif;font-size:24.0px;font-weight:normal;fill:#15393f;stroke:#15393f;stroke-width:1.00px;stroke-linejoin:round" textLength="45.5" lengthAdjust="spacingAndGlyphs"><tspan style="font-size:23.5px;stroke-width:1.4px">1</tspan><tspan style="font-size:23.5px;stroke-width:1.4px">2</tspan><tspan style="font-size:23.5px;stroke-width:1.4px">0</tspan></text>
<text x="1505.9" y="240.6" text-anchor="start" style="font-family:'Liberation Sans',Arial,sans-serif;font-size:24.0px;font-weight:normal;fill:#15393f;stroke:#15393f;stroke-width:1.00px;stroke-linejoin:round" textLength="45.5" lengthAdjust="spacingAndGlyphs"><tspan style="font-size:23.5px;stroke-width:1.4px">1</tspan><tspan style="font-size:23.5px;stroke-width:1.4px">0</tspan><tspan style="font-size:23.5px;stroke-width:1.4px">0</tspan></text>
<text x="1521.8" y="327.4" text-anchor="start" style="font-family:'Liberation Sans',Arial,sans-serif;font-size:24.0px;font-weight:normal;fill:#15393f;stroke:#15393f;stroke-width:1.00px;stroke-linejoin:round" textLength="29.5" lengthAdjust="spacingAndGlyphs"><tspan style="font-size:29.5px;stroke-width:1.2px">8</tspan><tspan style="font-size:23.5px;stroke-width:1.4px">0</tspan></text>
<text x="1521.8" y="414.3" text-anchor="start" style="font-family:'Liberation Sans',Arial,sans-serif;font-size:24.0px;font-weight:normal;fill:#15393f;stroke:#15393f;stroke-width:1.00px;stroke-linejoin:round" textLength="29.5" lengthAdjust="spacingAndGlyphs"><tspan style="font-size:29.5px;stroke-width:1.2px">6</tspan><tspan style="font-size:23.5px;stroke-width:1.4px">0</tspan></text>
<text x="1521.8" y="501.1" text-anchor="start" style="font-family:'Liberation Sans',Arial,sans-serif;font-size:24.0px;font-weight:normal;fill:#15393f;stroke:#15393f;stroke-width:1.00px;stroke-linejoin:round" textLength="29.6" lengthAdjust="spacingAndGlyphs"><tspan style="font-size:29.5px;stroke-width:1.2px" baseline-shift="-5.0">4</tspan><tspan style="font-size:23.5px;stroke-width:1.4px">0</tspan></text>
<text x="98.3" y="653.0" text-anchor="start" style="font-family:'Liberation Sans',Arial,sans-serif;font-size:24.0px;font-weight:normal;fill:#15393f;stroke:#15393f;stroke-width:1.00px;stroke-linejoin:round" textLength="29.7" lengthAdjust="spacingAndGlyphs"><tspan style="font-size:23.5px;stroke-width:1.4px">1</tspan><tspan style="font-size:23.5px;stroke-width:1.4px">0</tspan></text>
<text x="1505.6" y="653.0" text-anchor="start" style="font-family:'Liberation Sans',Arial,sans-serif;font-size:24.0px;font-weight:normal;fill:#15393f;stroke:#15393f;stroke-width:1.00px;stroke-linejoin:round" textLength="29.6" lengthAdjust="spacingAndGlyphs"><tspan style="font-size:23.5px;stroke-width:1.4px">1</tspan><tspan style="font-size:23.5px;stroke-width:1.4px">0</tspan></text>
<text x="114.2" y="741.1" text-anchor="start" style="font-family:'Liberation Sans',Arial,sans-serif;font-size:24.0px;font-weight:normal;fill:#15393f;stroke:#15393f;stroke-width:1.00px;stroke-linejoin:round" textLength="14.1" lengthAdjust="spacingAndGlyphs"><tspan style="font-size:29.5px;stroke-width:1.2px">8</tspan></text>
<text x="1520.5" y="741.1" text-anchor="start" style="font-family:'Liberation Sans',Arial,sans-serif;font-size:24.0px;font-weight:normal;fill:#15393f;stroke:#15393f;stroke-width:1.00px;stroke-linejoin:round" textLength="14.9" lengthAdjust="spacingAndGlyphs"><tspan style="font-size:29.5px;stroke-width:1.2px">8</tspan></text>
<text x="114.2" y="829.2" text-anchor="start" style="font-family:'Liberation Sans',Arial,sans-serif;font-size:24.0px;font-weight:normal;fill:#15393f;stroke:#15393f;stroke-width:1.00px;stroke-linejoin:round" textLength="15.2" lengthAdjust="spacingAndGlyphs"><tspan style="font-size:29.5px;stroke-width:1.2px">6</tspan></text>
<text x="1520.5" y="829.2" text-anchor="start" style="font-family:'Liberation Sans',Arial,sans-serif;font-size:24.0px;font-weight:normal;fill:#15393f;stroke:#15393f;stroke-width:1.00px;stroke-linejoin:round" textLength="14.9" lengthAdjust="spacingAndGlyphs"><tspan style="font-size:29.5px;stroke-width:1.2px">6</tspan></text>
<text x="114.2" y="917.3" text-anchor="start" style="font-family:'Liberation Sans',Arial,sans-serif;font-size:24.0px;font-weight:normal;fill:#15393f;stroke:#15393f;stroke-width:1.00px;stroke-linejoin:round" textLength="14.7" lengthAdjust="spacingAndGlyphs"><tspan style="font-size:29.5px;stroke-width:1.2px" baseline-shift="-5.0">4</tspan></text>
<text x="1521.5" y="917.3" text-anchor="start" style="font-family:'Liberation Sans',Arial,sans-serif;font-size:24.0px;font-weight:normal;fill:#15393f;stroke:#15393f;stroke-width:1.00px;stroke-linejoin:round" textLength="13.7" lengthAdjust="spacingAndGlyphs"><tspan style="font-size:29.5px;stroke-width:1.2px" baseline-shift="-5.0">4</tspan></text>
<text x="114.2" y="1005.4" text-anchor="start" style="font-family:'Liberation Sans',Arial,sans-serif;font-size:24.0px;font-weight:normal;fill:#15393f;stroke:#15393f;stroke-width:1.00px;stroke-linejoin:round" textLength="14.1" lengthAdjust="spacingAndGlyphs"><tspan style="font-size:23.5px;stroke-width:1.4px">2</tspan></text>
<text x="1521.5" y="1005.4" text-anchor="start" style="font-family:'Liberation Sans',Arial,sans-serif;font-size:24.0px;font-weight:normal;fill:#15393f;stroke:#15393f;stroke-width:1.00px;stroke-linejoin:round" textLength="13.8" lengthAdjust="spacingAndGlyphs"><tspan style="font-size:23.5px;stroke-width:1.4px">2</tspan></text>
<text x="126.3" y="1127.5" text-anchor="start" style="font-family:'Liberation Sans',Arial,sans-serif;font-size:24.0px;font-weight:normal;fill:#15393f;stroke:#15393f;stroke-width:1.00px;stroke-linejoin:round" textLength="65.2" lengthAdjust="spacingAndGlyphs"><tspan style="font-size:23.5px;stroke-width:1.4px">1</tspan><tspan style="font-size:29.5px;stroke-width:1.2px" baseline-shift="-5.0">9</tspan><tspan style="font-size:29.5px;stroke-width:1.2px">8</tspan><tspan style="font-size:23.5px;stroke-width:1.4px">0</tspan></text>
<text x="272.8" y="1127.5" text-anchor="start" style="font-family:'Liberation Sans',Arial,sans-serif;font-size:24.0px;font-weight:normal;fill:#15393f;stroke:#15393f;stroke-width:1.00px;stroke-linejoin:round" textLength="65.2" lengthAdjust="spacingAndGlyphs"><tspan style="font-size:23.5px;stroke-width:1.4px">1</tspan><tspan style="font-size:29.5px;stroke-width:1.2px" baseline-shift="-5.0">9</tspan><tspan style="font-size:29.5px;stroke-width:1.2px">8</tspan><tspan style="font-size:29.5px;stroke-width:1.2px" baseline-shift="-5.0">5</tspan></text>
<text x="419.4" y="1127.5" text-anchor="start" style="font-family:'Liberation Sans',Arial,sans-serif;font-size:24.0px;font-weight:normal;fill:#15393f;stroke:#15393f;stroke-width:1.00px;stroke-linejoin:round" textLength="64.2" lengthAdjust="spacingAndGlyphs"><tspan style="font-size:23.5px;stroke-width:1.4px">1</tspan><tspan style="font-size:29.5px;stroke-width:1.2px" baseline-shift="-5.0">9</tspan><tspan style="font-size:29.5px;stroke-width:1.2px" baseline-shift="-5.0">9</tspan><tspan style="font-size:23.5px;stroke-width:1.4px">0</tspan></text>
<text x="565.9" y="1127.5" text-anchor="start" style="font-family:'Liberation Sans',Arial,sans-serif;font-size:24.0px;font-weight:normal;fill:#15393f;stroke:#15393f;stroke-width:1.00px;stroke-linejoin:round" textLength="65.1" lengthAdjust="spacingAndGlyphs"><tspan style="font-size:23.5px;stroke-width:1.4px">1</tspan><tspan style="font-size:29.5px;stroke-width:1.2px" baseline-shift="-5.0">9</tspan><tspan style="font-size:29.5px;stroke-width:1.2px" baseline-shift="-5.0">9</tspan><tspan style="font-size:29.5px;stroke-width:1.2px" baseline-shift="-5.0">5</tspan></text>
<text x="712.5" y="1127.5" text-anchor="start" style="font-family:'Liberation Sans',Arial,sans-serif;font-size:24.0px;font-weight:normal;fill:#15393f;stroke:#15393f;stroke-width:1.00px;stroke-linejoin:round" textLength="64.1" lengthAdjust="spacingAndGlyphs"><tspan style="font-size:23.5px;stroke-width:1.4px">2</tspan><tspan style="font-size:23.5px;stroke-width:1.4px">0</tspan><tspan style="font-size:23.5px;stroke-width:1.4px">0</tspan><tspan style="font-size:23.5px;stroke-width:1.4px">0</tspan></text>
<text x="859.0" y="1127.5" text-anchor="start" style="font-family:'Liberation Sans',Arial,sans-serif;font-size:24.0px;font-weight:normal;fill:#15393f;stroke:#15393f;stroke-width:1.00px;stroke-linejoin:round" textLength="65.1" lengthAdjust="spacingAndGlyphs"><tspan style="font-size:23.5px;stroke-width:1.4px">2</tspan><tspan style="font-size:23.5px;stroke-width:1.4px">0</tspan><tspan style="font-size:23.5px;stroke-width:1.4px">0</tspan><tspan style="font-size:29.5px;stroke-width:1.2px" baseline-shift="-5.0">5</tspan></text>
<text x="1005.6" y="1127.5" text-anchor="start" style="font-family:'Liberation Sans',Arial,sans-serif;font-size:24.0px;font-weight:normal;fill:#15393f;stroke:#15393f;stroke-width:1.00px;stroke-linejoin:round" textLength="64.1" lengthAdjust="spacingAndGlyphs"><tspan style="font-size:23.5px;stroke-width:1.4px">2</tspan><tspan style="font-size:23.5px;stroke-width:1.4px">0</tspan><tspan style="font-size:23.5px;stroke-width:1.4px">1</tspan><tspan style="font-size:23.5px;stroke-width:1.4px">0</tspan></text>
<text x="1152.1" y="1127.5" text-anchor="start" style="font-family:'Liberation Sans',Arial,sans-serif;font-size:24.0px;font-weight:normal;fill:#15393f;stroke:#15393f;stroke-width:1.00px;stroke-linejoin:round" textLength="64.1" lengthAdjust="spacingAndGlyphs"><tspan style="font-size:23.5px;stroke-width:1.4px">2</tspan><tspan style="font-size:23.5px;stroke-width:1.4px">0</tspan><tspan style="font-size:23.5px;stroke-width:1.4px">1</tspan><tspan style="font-size:29.5px;stroke-width:1.2px" baseline-shift="-5.0">5</tspan></text>
<text x="1298.7" y="1127.5" text-anchor="start" style="font-family:'Liberation Sans',Arial,sans-serif;font-size:24.0px;font-weight:normal;fill:#15393f;stroke:#15393f;stroke-width:1.00px;stroke-linejoin:round" textLength="64.1" lengthAdjust="spacingAndGlyphs"><tspan style="font-size:23.5px;stroke-width:1.4px">2</tspan><tspan style="font-size:23.5px;stroke-width:1.4px">0</tspan><tspan style="font-size:23.5px;stroke-width:1.4px">2</tspan><tspan style="font-size:23.5px;stroke-width:1.4px">0</tspan></text>
<text x="111.0" y="607.0" text-anchor="start" style="font-family:'Liberation Sans',Arial,sans-serif;font-size:26.0px;font-weight:normal;fill:#15393f;stroke:#15393f;stroke-width:0.30px;stroke-linejoin:round" textLength="20.2" lengthAdjust="spacingAndGlyphs">%</text>
<text x="1505.4" y="607.0" text-anchor="start" style="font-family:'Liberation Sans',Arial,sans-serif;font-size:26.0px;font-weight:normal;fill:#15393f;stroke:#15393f;stroke-width:0.30px;stroke-linejoin:round" textLength="19.8" lengthAdjust="spacingAndGlyphs">%</text>
</svg>
</body></html>
